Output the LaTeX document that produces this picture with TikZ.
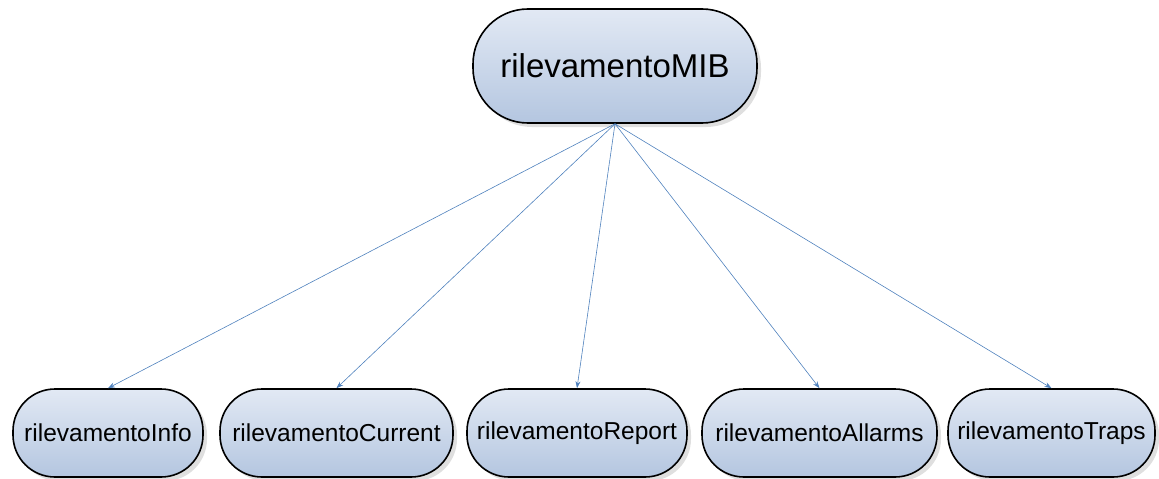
\documentclass[tikz,border=0pt]{standalone}
\usepackage{fontspec}
\setmainfont{Liberation Sans}
\usetikzlibrary{arrows.meta,shadows}

\definecolor{boxtop}{HTML}{E2E9F4}
\definecolor{boxbot}{HTML}{B4C6E0}
\definecolor{linkblue}{HTML}{4F81BD}

\begin{document}
\begin{tikzpicture}[
        x=1pt, y=-1pt,
        mibbox/.style={draw=black, line width=1.6pt, rounded corners=42pt,
            top color=boxtop, bottom color=boxbot, inner sep=0pt,
            drop shadow={shadow xshift=4pt, shadow yshift=-4pt, opacity=0.25, fill=gray}},
        rootbox/.style={mibbox, rounded corners=55pt, minimum width=284pt, minimum height=114pt, font=\fontsize{33}{36}\selectfont},
        leafbox/.style={mibbox, minimum height=88pt, font=\fontsize{24.5}{28}\selectfont},
        link/.style={draw=linkblue, line width=0.6pt, -{Stealth[length=7pt,width=5pt]}}
    ]
        \useasboundingbox (0,0) rectangle (1159,479);

        \node[rootbox] (mib) at (615,66) {rilevamentoMIB};

        \node[leafbox, minimum width=190pt] (info) at (108,433) {rilevamentoInfo};
        \node[leafbox, minimum width=233pt] (current) at (336.5,433) {rilevamentoCurrent};
        \node[leafbox, minimum width=220pt] (report) at (577,433) {rilevamentoReport};
        \node[leafbox, minimum width=235pt] (allarms) at (819.5,433) {rilevamentoAllarms};
        \node[leafbox, minimum width=207pt] (traps) at (1051.5,433) {rilevamentoTraps};

        \draw[link] (mib.south) -- (info.north);
        \draw[link] (mib.south) -- (current.north);
        \draw[link] (mib.south) -- (report.north);
        \draw[link] (mib.south) -- (allarms.north);
        \draw[link] (mib.south) -- (traps.north);
    \end{tikzpicture}
\end{document}
